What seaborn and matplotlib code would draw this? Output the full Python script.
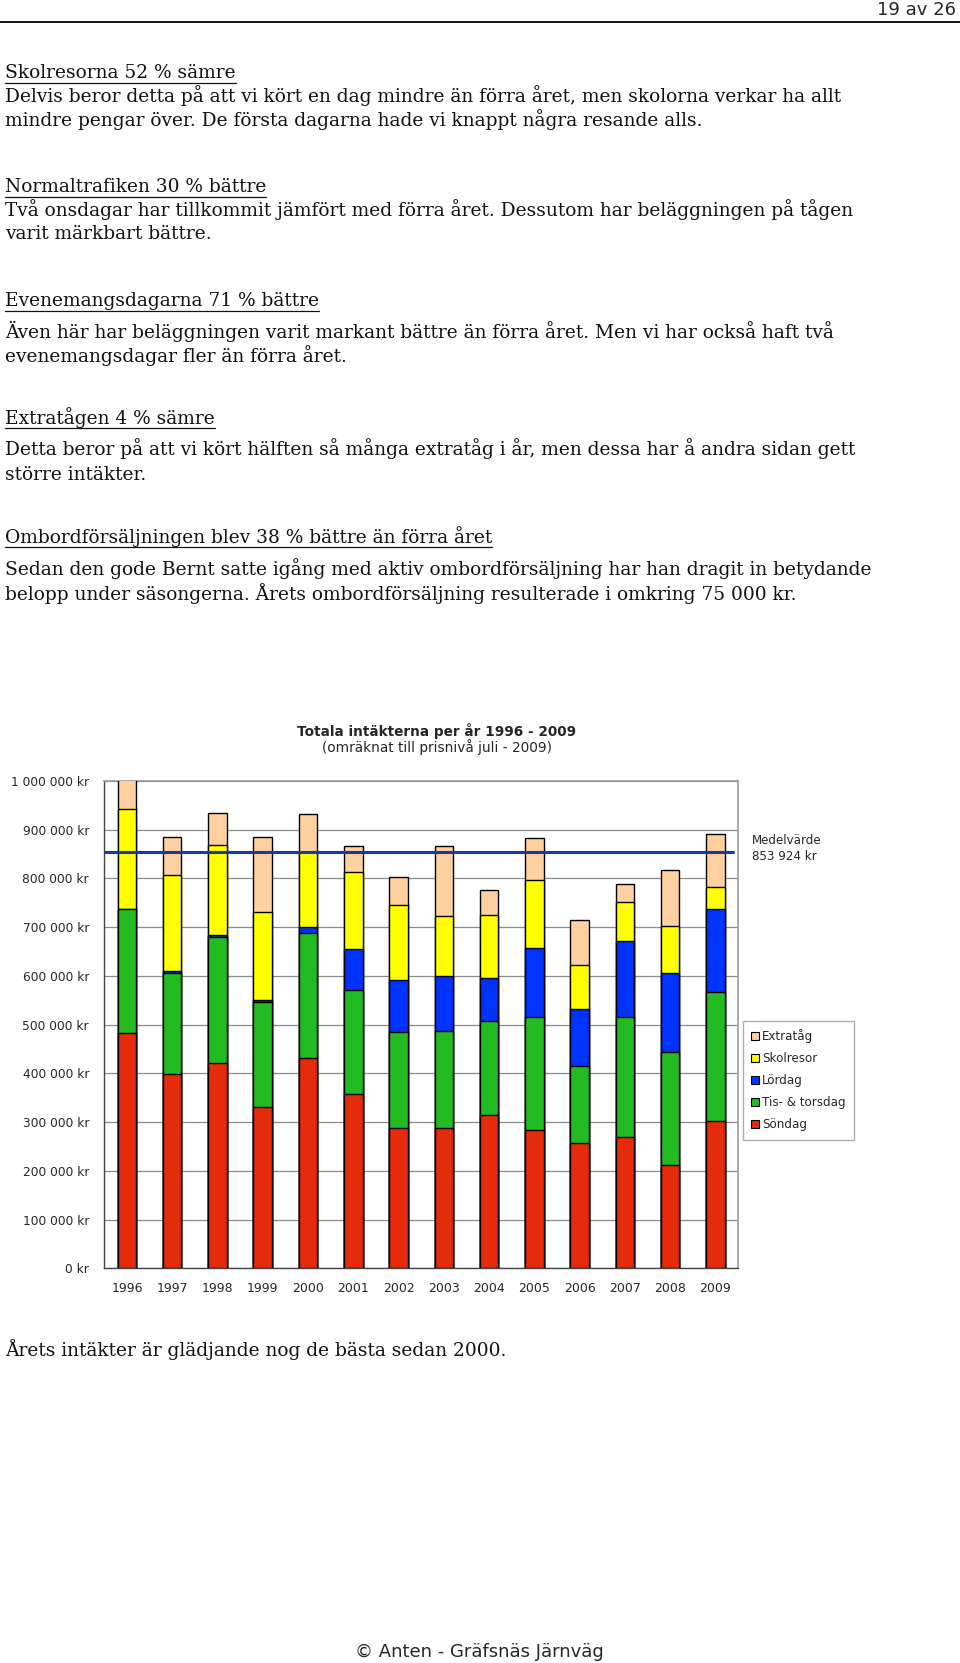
import numpy as np
import pandas as pd
import matplotlib
matplotlib.use("Agg")
import matplotlib.pyplot as plt
import seaborn as sns
from matplotlib.ticker import MultipleLocator, FuncFormatter, FixedLocator
from matplotlib.patches import Patch
from matplotlib.lines import Line2D

# ---------------- data (kr) ----------------
years = ["1996", "1997", "1998", "1999", "2000", "2001", "2002",
         "2003", "2004", "2005", "2006", "2007", "2008", "2009"]
sondag = [483000, 399000, 422000, 332000, 431000, 358000, 287000,
          287000, 314000, 284000, 257000, 270000, 211000, 302000]
tis_tors = [255000, 208000, 257000, 215000, 258000, 213000, 197000,
            199000, 194000, 232000, 158000, 246000, 232000, 265000]
lordag = [0, 4000, 5000, 4000, 12000, 84000, 107000,
          114000, 87000, 142000, 117000, 155000, 163000, 170000]
skolresor = [204000, 196000, 185000, 180000, 153000, 158000, 154000,
             122000, 130000, 138000, 91000, 81000, 96000, 46000]
extratag = [80000, 78000, 65000, 154000, 78000, 54000, 59000,
            144000, 51000, 88000, 92000, 36000, 115000, 109000]
mean_value = 853924

series_names = ["Söndag", "Tis- & torsdag", "Lördag", "Skolresor", "Extratåg"]
series_values = [sondag, tis_tors, lordag, skolresor, extratag]
colors = ["#E62A0C", "#22BB22", "#0033FF", "#FFFF00", "#FFD0A0"]

ytick_values = list(range(0, 1000001, 100000))

W, H = 960, 1663
fig = plt.figure(figsize=(W / 100, H / 100), dpi=100)
sns.set_style("white")
plt.rcParams['font.family'] = ['DejaVu Sans']

def fy(y):
    return 1 - y / H

def fx(x):
    return x / W

# ---------------- page text ----------------
serif = ['DejaVu Serif']
body_size = 13.4
fig.text(fx(956), fy(10), "19 av 26", ha='right', va='center', fontsize=13,
         family=['DejaVu Sans'])
fig.add_artist(Line2D([0, 1], [fy(21.5), fy(21.5)], color='black', lw=1.3))

lines = [
    (73, "Skolresorna 52 % sämre", True),
    (96, "Delvis beror detta på att vi kört en dag mindre än förra året, men skolorna verkar ha allt", False),
    (120, "mindre pengar över. De första dagarna hade vi knappt några resande alls.", False),
    (187, "Normaltrafiken 30 % bättre", True),
    (210, "Två onsdagar har tillkommit jämfört med förra året. Dessutom har beläggningen på tågen", False),
    (234, "varit märkbart bättre.", False),
    (301, "Evenemangsdagarna 71 % bättre", True),
    (331, "Även här har beläggningen varit markant bättre än förra året. Men vi har också haft två", False),
    (356, "evenemangsdagar fler än förra året.", False),
    (418, "Extratågen 4 % sämre", True),
    (449, "Detta beror på att vi kört hälften så många extratåg i år, men dessa har å andra sidan gett", False),
    (475, "större intäkter.", False),
    (537, "Ombordförsäljningen blev 38 % bättre än förra året", True),
    (569, "Sedan den gode Bernt satte igång med aktiv ombordförsäljning har han dragit in betydande", False),
    (594, "belopp under säsongerna. Årets ombordförsäljning resulterade i omkring 75 000 kr.", False),
    (1350, "Årets intäkter är glädjande nog de bästa sedan 2000.", False),
]
heading_texts = []
for y, s, ul in lines:
    t = fig.text(fx(5), fy(y), s, ha='left', va='center', fontsize=body_size,
                 family=serif, color='#111111')
    if ul:
        heading_texts.append((y, t))

fig.text(fx(479), fy(1652), "© Anten - Gräfsnäs Järnväg", ha='center', va='center',
         fontsize=13, family=['DejaVu Sans'])

# ---------------- chart ----------------
ax = fig.add_axes([fx(104.3), fy(1268.3), fx(738) - fx(104.3), fy(781) - fy(1268.3)])

cum = np.cumsum(np.array(series_values, dtype=float), axis=0)
for i in range(len(series_names) - 1, -1, -1):
    sns.barplot(x=years, y=cum[i], color=colors[i], saturation=1, width=0.41,
                edgecolor='black', linewidth=1.0, errorbar=None, ax=ax, zorder=3)

ax.axhline(mean_value, xmin=0, xmax=0.992, color='#1A3A9A', lw=2.2, zorder=4)

ax.set_ylim(0, 1000000)
ax.set_xlim(-0.5, len(years) - 0.5)
ax.yaxis.set_major_locator(FixedLocator(ytick_values))
ax.yaxis.set_minor_locator(MultipleLocator(25000))
ax.yaxis.set_major_formatter(FuncFormatter(lambda v, p: f"{int(v):,} kr".replace(",", " ")))
ax.grid(axis='y', which='major', color='#8C8C8C', lw=0.9, zorder=0)
ax.set_axisbelow(True)
ax.xaxis.set_minor_locator(FixedLocator(np.arange(-0.5, len(years), 1.0)))
ax.tick_params(axis='x', which='major', length=0, pad=10, labelsize=9)
ax.tick_params(axis='x', which='minor', length=4, width=0.8, direction='out', color='#444444')
ax.tick_params(axis='y', which='major', length=7, width=0.8, direction='out', labelsize=8.8, pad=4, color='#444444')
ax.tick_params(axis='y', which='minor', length=4, width=0.8, direction='inout', color='#444444')
ax.set_xlabel("")
ax.set_ylabel("")
for side in ['top', 'right']:
    ax.spines[side].set_color('#999999')
    ax.spines[side].set_linewidth(1.2)
for side in ['left', 'bottom']:
    ax.spines[side].set_color('#444444')
    ax.spines[side].set_linewidth(1.0)

fig.text(fx(437), fy(731), "Totala intäkterna per år 1996 - 2009", ha='center', va='center',
         fontsize=9.8, fontweight='bold')
fig.text(fx(437), fy(747), "(omräknat till prisnivå juli - 2009)", ha='center', va='center',
         fontsize=9.8)
fig.text(fx(752), fy(841), "Medelvärde", ha='left', va='center', fontsize=8.6)
fig.text(fx(752), fy(856), "853 924 kr", ha='left', va='center', fontsize=8.6)

handles = [Patch(facecolor=colors[i], edgecolor='black', linewidth=0.8, label=series_names[i])
           for i in range(len(series_names) - 1, -1, -1)]
leg = fig.legend(handles=handles, loc='upper left', bbox_to_anchor=(fx(743), fy(1021)),
                 frameon=True, fancybox=False, fontsize=8.6, handlelength=0.6,
                 handleheight=0.6, handletextpad=0.3, labelspacing=0.75,
                 borderpad=0.7, borderaxespad=0)
leg.get_frame().set_edgecolor('#999999')
leg.get_frame().set_linewidth(1.0)

# underline headings
fig.canvas.draw()
r = fig.canvas.get_renderer()
for y, t in heading_texts:
    bb = t.get_window_extent(renderer=r)
    x0, x1 = bb.x0 / W, bb.x1 / W
    fig.add_artist(Line2D([x0, x1], [fy(y + 10), fy(y + 10)], color='#111111', lw=0.9))

fig.savefig("out.png", dpi=100, facecolor='white')
